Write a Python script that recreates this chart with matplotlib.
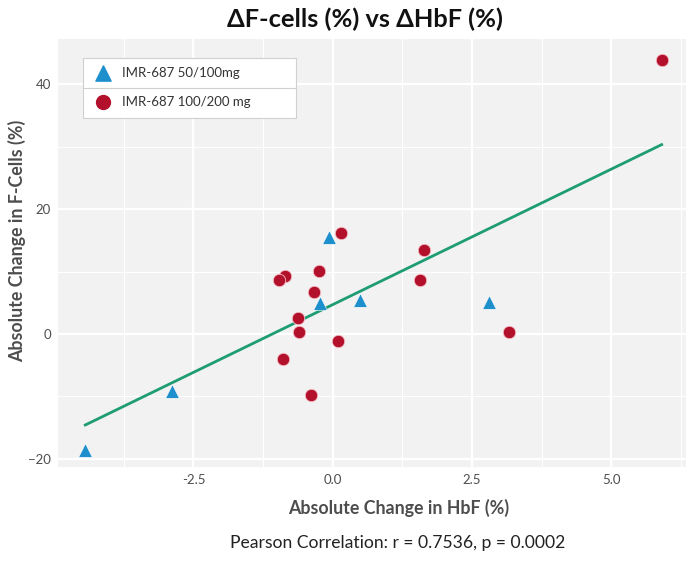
import numpy as np
import matplotlib
matplotlib.use("Agg")
import matplotlib.pyplot as plt
from matplotlib.patches import Rectangle

plt.rcParams['font.family'] = ['Lato', 'DejaVu Sans']

# Data
tri_x = [-4.44, -2.89, -0.23, -0.07, 0.48, 2.81]
tri_y = [-18.6, -9.1, 4.9, 15.5, 5.4, 5.1]
cir_x = [0.14, -0.85, -0.96, -0.25, -0.33, -0.62, -0.60, 0.10, -0.89, -0.39, 1.64, 1.57, 3.17, 5.90]
cir_y = [16.2, 9.3, 8.6, 10.1, 6.8, 2.6, 0.3, -1.1, -4.0, -9.8, 13.5, 8.6, 0.3, 43.8]
series_labels = ["IMR-687 50/100mg", "IMR-687 100/200 mg"]
xticks = [-2.5, 0.0, 2.5, 5.0]
xtick_labels = ["-2.5", "0.0", "2.5", "5.0"]
yticks = [-20, 0, 20, 40]
title = "ΔF-cells (%) vs ΔHbF (%)"
xlabel = "Absolute Change in HbF (%)"
ylabel = "Absolute Change in F-Cells (%)"
note = "Pearson Correlation: r = 0.7536, p = 0.0002"

BLUE = "#1E8FCD"
RED = "#B3102B"
GREEN = "#1E9C74"
GRAY = "#4D4D4D"

fig = plt.figure(figsize=(6.87, 5.61), dpi=100)
ax = fig.add_axes([0.0844, 0.1676, 0.9136, 0.7624])
ax.set_facecolor("#F2F2F2")
for s in ax.spines.values():
    s.set_visible(False)

ax.set_xlim(-4.93, 6.33)
ax.set_ylim(-21.3, 47.2)
ax.set_xticks(xticks)
ax.set_xticklabels(xtick_labels)
ax.set_yticks(yticks)
ax.set_xticks([-3.75, -1.25, 1.25, 3.75, 6.25], minor=True)
ax.set_yticks([-10, 10, 30], minor=True)
ax.grid(True, which='major', color='white', linewidth=1.6)
ax.grid(True, which='minor', color='white', linewidth=0.8)
ax.set_axisbelow(True)
ax.tick_params(which='both', length=0, pad=5, labelsize=9.5, labelcolor=GRAY)

# regression line
allx = np.array(tri_x + cir_x)
ally = np.array(tri_y + cir_y)
m, b = np.polyfit(allx, ally, 1)
xx = np.array([allx.min(), allx.max()])
ax.plot(xx, m * xx + b, color=GREEN, linewidth=2, zorder=2)

ax.scatter(tri_x, tri_y, marker='^', s=95, color=BLUE, edgecolors='white', linewidths=0.4, zorder=3)
ax.scatter(cir_x, cir_y, marker='o', s=80, color=RED, edgecolors='#F5C0C8', linewidths=0.6, zorder=3)

ax.set_xlabel(xlabel, fontsize=12.8, fontweight='bold', color=GRAY)
ax.xaxis.set_label_coords(0.543, -0.075)
ax.set_ylabel(ylabel, fontsize=12.8, fontweight='bold', color=GRAY)
ax.yaxis.set_label_coords(-0.051, 0.528)
fig.text(0.531, 0.965, title, fontsize=18.3, fontweight='bold', color='#111111', ha='center', va='center')

# legend box (drawn manually to match the boxed key layout)
lx0, lx1, ly0, ly1, lymid = 0.0398, 0.379, 0.8154, 0.9556, 0.8855
ax.add_patch(Rectangle((lx0, ly0), lx1 - lx0, ly1 - ly0, transform=ax.transAxes,
                       facecolor='white', edgecolor='#D0D0D0', linewidth=0.8, zorder=9))
ax.plot([lx0, lx1], [lymid, lymid], transform=ax.transAxes, color='#D0D0D0', linewidth=0.8, zorder=10)
rows = [0.9206, 0.8528]
ax.scatter([0.0717], [rows[0]], marker='^', s=120, color=BLUE, transform=ax.transAxes, zorder=11, clip_on=False)
ax.scatter([0.0717], [rows[1]], marker='o', s=100, color=RED, transform=ax.transAxes, zorder=11, clip_on=False)
for yy, lab in zip(rows, series_labels):
    ax.text(0.1019, yy, lab, transform=ax.transAxes, fontsize=9.5, color='#333333',
            ha='left', va='center', zorder=11)

fig.text(0.579, 0.032, note, fontsize=12.6, color='#222222', ha='center', va='center')

fig.savefig("out.png", dpi=100)
